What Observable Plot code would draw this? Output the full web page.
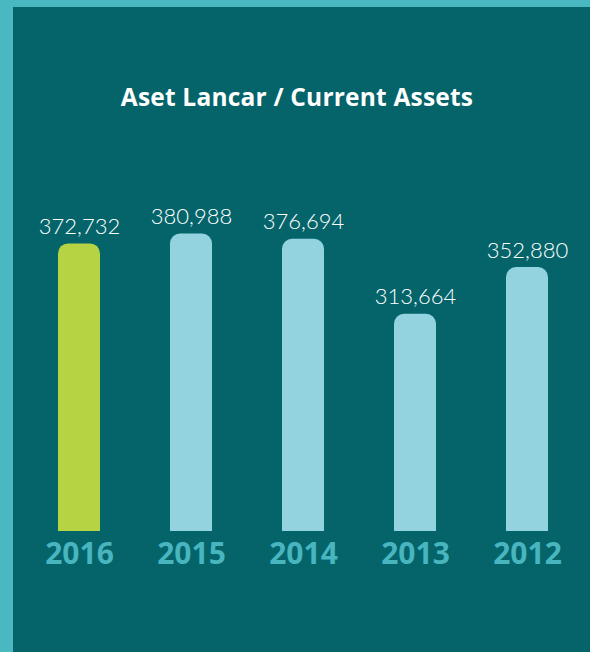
<!DOCTYPE html>
<html>
<head>
<meta charset="utf-8">
<script src="https://cdn.jsdelivr.net/npm/d3@7"></script>
<script src="https://cdn.jsdelivr.net/npm/@observablehq/plot@0.6"></script>
<style>
  html, body { margin: 0; padding: 0; }
  body { width: 590px; height: 652px; background: #4ab8c0; position: relative; overflow: hidden; }
  #panel { position: absolute; left: 13px; top: 7px; width: 577px; height: 645px; background: #04646a; }
  #title { position: absolute; left: 0; top: 75px; width: 568px; text-align: center; line-height: 30px;
           font-family: "Open Sans", Lato, sans-serif; font-weight: 700; font-size: 24.5px; letter-spacing: 0.2px; color: #ffffff; }
  #chart { position: absolute; left: 0; top: 0; }
</style>
</head>
<body>
<div id="panel">
  <div id="title">Aset Lancar / Current Assets</div>
  <div id="chart"></div>
</div>
<script>
const years = ["2016", "2015", "2014", "2013", "2012"];
const values = [372732, 380988, 376694, 313664, 352880];
const highlightYear = "2016";

const data = years.map((year, i) => ({year, value: values[i]}));

const chart = Plot.plot({
  width: 577,
  height: 645,
  marginLeft: 10,
  marginRight: 7.5,
  marginTop: 204,
  marginBottom: 121,
  style: {background: "transparent", overflow: "visible"},
  x: {domain: years, paddingInner: 0.622, paddingOuter: 0.3, label: null},
  y: {domain: [131000, 400000], axis: null},
  marks: [
    Plot.barY(data, {
      x: "year", y: "value", rx: 10, clip: true,
      fill: d => d.year === highlightYear ? "#b6d344" : "#93d3e0"
    }),
    Plot.text(data, {
      x: "year", y: "value", text: d => d3.format(",")(d.value),
      lineAnchor: "bottom", dy: -10,
      fill: "#ffffff", fontSize: 22, fontWeight: 300,
      fontFamily: "Lato, 'Open Sans', sans-serif"
    }),
    Plot.axisX({
      tickSize: 0, tickPadding: 11, label: null,
      fill: "#48b5bf", fontSize: 30, fontWeight: 700,
      fontFamily: "'Open Sans', Lato, sans-serif"
    })
  ]
});
document.getElementById("chart").appendChild(chart);
</script>
</body>
</html>
